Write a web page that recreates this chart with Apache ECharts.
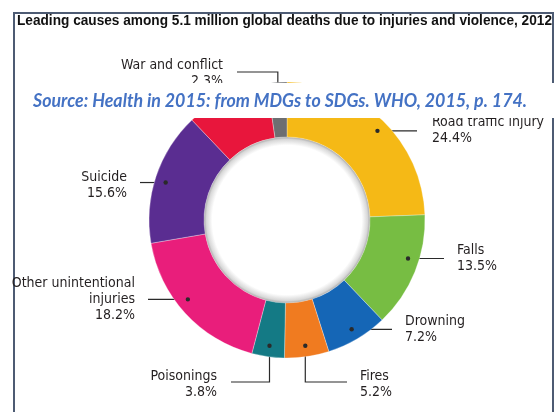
<!DOCTYPE html>
<html>
<head>
<meta charset="utf-8">
<script src="https://cdn.jsdelivr.net/npm/echarts@6/dist/echarts.min.js"></script>
<style>
html,body{margin:0;padding:0;background:#fff;}
#chart{width:557px;height:412px;}
</style>
</head>
<body>
<div id="chart"></div>
<script>
// ---- data ----
const categories = ['Road traffic injury','Falls','Drowning','Fires','Poisonings','Other unintentional injuries','Suicide','Homicide','War and conflict'];
const shares = [24.4, 13.5, 7.2, 5.2, 3.8, 18.2, 15.6, 9.8, 2.3];
const titleText = 'Leading causes among 5.1 million global deaths due to injuries and violence, 2012';
const sourceText = 'Source: Health in 2015: from MDGs to SDGs. WHO, 2015, p. 174.';

// ---- styling / layout ----
const sliceColors = ['#F5B916','#77BD43','#1566B6','#F07B20','#147A85','#E91E7B','#5A2D91','#E8163C','#6D6E71'];
const labelBreaks = {'Other unintentional injuries':'Other unintentional\ninjuries'};
const CX = 287, CY = 220, R0 = 83, R1 = 138, RDOT = 127;
const NARROW = "'DejaVu Sans Condensed','Liberation Sans Narrow',sans-serif";
// label placement (layout only); da = small anchor angle nudge in degrees
const placement = [
  {kind:'h', lineEndX:417, textX:432, align:'left', da:1.5},
  {kind:'h', lineEndX:444, textX:457, align:'left', da:-4.5},
  {kind:'h', lineEndX:392, textX:405, align:'left', da:0},
  {kind:'v', elbowY:382, lineEndX:347, textX:360, align:'left', da:0, dy:2},
  {kind:'v', elbowY:382, lineEndX:231, textX:217, align:'right', da:0, dy:2},
  {kind:'h', lineEndX:148, textX:135, align:'right', da:3.8},
  {kind:'h', lineEndX:140, textX:127, align:'right', da:-1.2, dy:3},
  {kind:'h', lineEndX:190, textX:179, align:'right', da:0},
  {kind:'top', elbowY:72, lineEndX:237, textX:223, textY:73, align:'right', da:0}
];

// anchor dots derived from the data (mid-angle of each slice)
const total = shares.reduce((a,b)=>a+b,0);
let cum = 0;
const dots = shares.map((v,i) => {
  const a = (cum + v/2) / total * 2 * Math.PI + (placement[i].da||0) * Math.PI/180;
  cum += v;
  return [CX + RDOT*Math.sin(a), CY - RDOT*Math.cos(a)];
});

// helper to fit text into a target width
function measure(font, text){
  const c = document.createElement('canvas').getContext('2d');
  c.font = font; return c.measureText(text).width;
}
const TITLE_FONT = "bold 15px 'Liberation Sans', Arial, sans-serif";
const titleScale = 535 / measure(TITLE_FONT, titleText);
const SRC_FONT = "italic bold 18px Lato, 'Open Sans', sans-serif";
const srcScale = Math.min(1.1, 494 / measure(SRC_FONT, sourceText));

const chart = echarts.init(document.getElementById('chart'), null, {renderer:'canvas'});

const graphics = [
  {type:'rect', z:0, shape:{x:14, y:13, width:539, height:430}, style:{fill:'none', stroke:'#4d5b73', lineWidth:2}},
  {type:'text', z:5, x:17, y:21, scaleX:titleScale, style:{text:titleText, font:TITLE_FONT, fill:'#111', textAlign:'left', textVerticalAlign:'middle'}},
  {type:'circle', z:1, shape:{cx:CX, cy:CY, r:R0}, style:{fill:new echarts.graphic.RadialGradient(0.5,0.5,0.5,[
    {offset:0,color:'#ffffff'},{offset:0.9,color:'#ffffff'},{offset:0.97,color:'#d8d8d8'},{offset:1,color:'#a9a9a9'}])}},
  {type:'rect', z:100, shape:{x:16, y:83, width:541, height:35}, style:{fill:'#ffffff'}},
  {type:'text', z:101, x:280, y:101, scaleX:srcScale, style:{text:sourceText, fill:'#4472C4', font:SRC_FONT, textAlign:'center', textVerticalAlign:'middle'}}
];
dots.forEach(d => graphics.push({type:'circle', z:50, shape:{cx:d[0], cy:d[1], r:2.2}, style:{fill:'#2a2a2a'}}));

chart.setOption({
  animation:false,
  backgroundColor:'#ffffff',
  graphic:graphics,
  series:[{
    type:'pie',
    center:[CX, CY],
    radius:[R0, R1],
    startAngle:90,
    clockwise:true,
    avoidLabelOverlap:false,
    itemStyle:{borderColor:'rgba(255,255,255,0.6)', borderWidth:0.5},
    label:{
      show:true, position:'outside', overflow:'none',
      fontFamily:NARROW, fontSize:14, lineHeight:16, color:'#231F20',
      formatter: p => (labelBreaks[p.name] || p.name) + '\n' + p.value.toFixed(1) + '%'
    },
    labelLine:{show:true, lineStyle:{color:'#2a2a2a', width:1.2}},
    labelLayout: function(params){
      const i = params.dataIndex, p = placement[i], d = dots[i], dy = p.dy || 0;
      if (p.kind === 'h') {
        return {x:p.textX, y:d[1]+dy, align:p.align, verticalAlign:'middle',
          labelLinePoints:[[d[0],d[1]],[(d[0]+p.lineEndX)/2,d[1]],[p.lineEndX,d[1]]]};
      }
      if (p.kind === 'v') {
        return {x:p.textX, y:p.elbowY+dy, align:p.align, verticalAlign:'middle',
          labelLinePoints:[[d[0],d[1]],[d[0],p.elbowY],[p.lineEndX,p.elbowY]]};
      }
      return {x:p.textX, y:p.textY, align:p.align, verticalAlign:'middle',
        labelLinePoints:[[d[0],d[1]],[d[0],p.elbowY],[p.lineEndX,p.elbowY]]};
    },
    emphasis:{disabled:true},
    data: categories.map((c,i)=>({name:c, value:shares[i], itemStyle:{color:sliceColors[i]}}))
  }]
});
</script>
</body>
</html>
